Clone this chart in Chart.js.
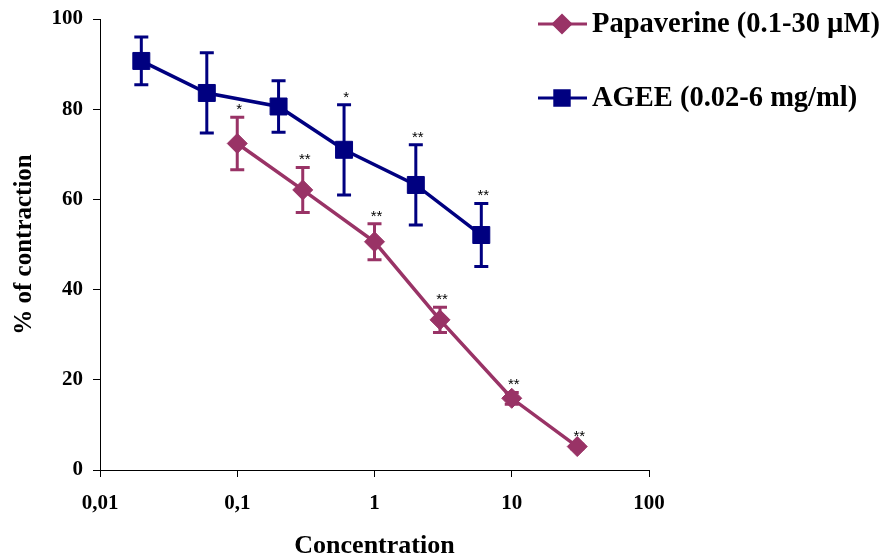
<!DOCTYPE html>
<html>
<head>
<meta charset="utf-8">
<title>Contraction vs concentration</title>
<script src="https://cdn.jsdelivr.net/npm/chart.js@4.4.1/dist/chart.umd.min.js"></script>
<style>
  html, body { margin: 0; padding: 0; background: #fff; }
  #wrap { width: 887px; height: 557px; }
</style>
</head>
<body>
<div id="wrap"><canvas id="chart" width="887" height="557"></canvas></div>
<script>
// ===== DATA =====
const xTicks = [0.01, 0.1, 1, 10, 100];
const yTicks = [0, 20, 40, 60, 80, 100];

const papLabel = "Papaverine (0.1-30 µM)";
const papConc = [0.1, 0.3, 1, 3, 10, 30];
const papMean = [72.4, 62.1, 50.6, 33.3, 15.9, 5.2];
const papErr  = [5.8, 5.0, 4.0, 2.8, 1.3, 0.5];
const papSig  = ["*", "**", "**", "**", "**", "**"];

const ageeLabel = "AGEE (0.02-6 mg/ml)";
const ageeConc = [0.02, 0.06, 0.2, 0.6, 2, 6];
const ageeMean = [90.7, 83.6, 80.6, 71.0, 63.2, 52.1];
const ageeErr  = [5.3, 8.9, 5.7, 10.0, 8.9, 7.0];
const ageeSig  = ["", "", "", "*", "**", "**"];

const PAP_COLOR = "#993366";
const AGEE_COLOR = "#000080";
const SERIF = "'Liberation Serif', 'Times New Roman', serif";

function toPoints(xs, ys) {
  return xs.map((x, i) => ({ x: x, y: ys[i] }));
}

// error bars + significance stars
const errorBars = {
  id: "errorBars",
  beforeDatasetsDraw(chart) {
    const ctx = chart.ctx;
    const yScale = chart.scales.y;
    chart.data.datasets.forEach((ds, di) => {
      const meta = chart.getDatasetMeta(di);
      ctx.save();
      ctx.strokeStyle = ds.borderColor;
      ctx.lineWidth = 3;
      meta.data.forEach((pt, i) => {
        const m = ds.data[i].y, e = ds.err[i];
        const yTop = yScale.getPixelForValue(m + e);
        const yBot = yScale.getPixelForValue(m - e);
        ctx.beginPath();
        ctx.moveTo(pt.x, yTop); ctx.lineTo(pt.x, yBot);
        ctx.moveTo(pt.x - 7, yTop); ctx.lineTo(pt.x + 7, yTop);
        ctx.moveTo(pt.x - 7, yBot); ctx.lineTo(pt.x + 7, yBot);
        ctx.stroke();
      });
      ctx.restore();
    });
  },
  afterDatasetsDraw(chart) {
    const ctx = chart.ctx;
    const yScale = chart.scales.y;
    ctx.save();
    ctx.fillStyle = "#000";
    ctx.font = "15px 'Liberation Sans', Arial, sans-serif";
    ctx.textAlign = "center";
    ctx.textBaseline = "alphabetic";
    chart.data.datasets.forEach((ds, di) => {
      const meta = chart.getDatasetMeta(di);
      meta.data.forEach((pt, i) => {
        if (!ds.sig[i]) return;
        const top = yScale.getPixelForValue(ds.data[i].y + ds.err[i]);
        ctx.fillText(ds.sig[i], pt.x + 2, top - 3);
      });
    });
    ctx.restore();
  }
};

// legend on the right, line + marker style
const sideLegend = {
  id: "sideLegend",
  afterDraw(chart) {
    const ctx = chart.ctx;
    const rows = [[0, 24], [1, 98]];
    ctx.save();
    rows.forEach(([di, y]) => {
      const ds = chart.data.datasets[di];
      ctx.strokeStyle = ds.borderColor;
      ctx.lineWidth = 3;
      ctx.beginPath();
      ctx.moveTo(538, y); ctx.lineTo(587, y);
      ctx.stroke();
      Chart.helpers.drawPoint(ctx, {
        pointStyle: ds.pointStyle, radius: ds.pointRadius * 0.85, borderWidth: 1
      }, 562, y);
      ctx.fillStyle = ds.borderColor;
      ctx.fill();
      ctx.fillStyle = "#000";
      ctx.font = "bold 28.5px " + SERIF;
      ctx.textAlign = "left";
      ctx.textBaseline = "middle";
      ctx.fillText(ds.label, 592, y + 1);
    });
    ctx.restore();
  }
};

new Chart(document.getElementById("chart"), {
  type: "line",
  data: {
    datasets: [
      {
        label: papLabel,
        data: toPoints(papConc, papMean),
        err: papErr,
        sig: papSig,
        borderColor: PAP_COLOR,
        backgroundColor: PAP_COLOR,
        borderWidth: 3.5,
        pointStyle: "rectRot",
        pointRadius: 10,
        pointBorderWidth: 1,
        tension: 0
      },
      {
        label: ageeLabel,
        data: toPoints(ageeConc, ageeMean),
        err: ageeErr,
        sig: ageeSig,
        borderColor: AGEE_COLOR,
        backgroundColor: AGEE_COLOR,
        borderWidth: 3.5,
        pointStyle: "rect",
        pointRadius: 12,
        pointBorderWidth: 1,
        tension: 0
      }
    ]
  },
  options: {
    responsive: false,
    animation: false,
    layout: { padding: { left: 0, right: 238, top: 19, bottom: 0 } },
    plugins: {
      legend: { display: false },
      tooltip: { enabled: false }
    },
    scales: {
      x: {
        type: "logarithmic",
        min: 0.01,
        max: 100,
        afterBuildTicks: (scale) => { scale.ticks = xTicks.map(v => ({ value: v })); },
        afterFit: (scale) => { scale.height = 87; },
        grid: { drawOnChartArea: false, drawTicks: true, tickLength: 7, color: "#000" },
        border: { color: "#000", width: 1 },
        ticks: {
          color: "#000",
          padding: 14,
          maxRotation: 0,
          autoSkip: false,
          font: { family: SERIF, size: 21, weight: "bold" },
          callback: (v) => String(v).replace(".", ",")
        },
        title: {
          display: true,
          text: "Concentration",
          color: "#000",
          padding: { top: 0, bottom: 0 },
          font: { family: SERIF, size: 26, weight: "bold", lineHeight: 0.85 }
        }
      },
      y: {
        min: 0,
        max: 100,
        afterBuildTicks: (scale) => { scale.ticks = yTicks.map(v => ({ value: v })); },
        afterFit: (scale) => { scale.width = 100; },
        grid: { drawOnChartArea: false, drawTicks: true, tickLength: 7, color: "#000" },
        border: { color: "#000", width: 1 },
        ticks: {
          color: "#000",
          padding: 10,
          font: { family: SERIF, size: 21, weight: "bold", lineHeight: 0.8 }
        },
        title: {
          display: true,
          text: "% of contraction",
          color: "#000",
          padding: { top: 10, bottom: 0 },
          font: { family: SERIF, size: 25, weight: "bold" }
        }
      }
    }
  },
  plugins: [errorBars, sideLegend]
});
</script>
</body>
</html>
